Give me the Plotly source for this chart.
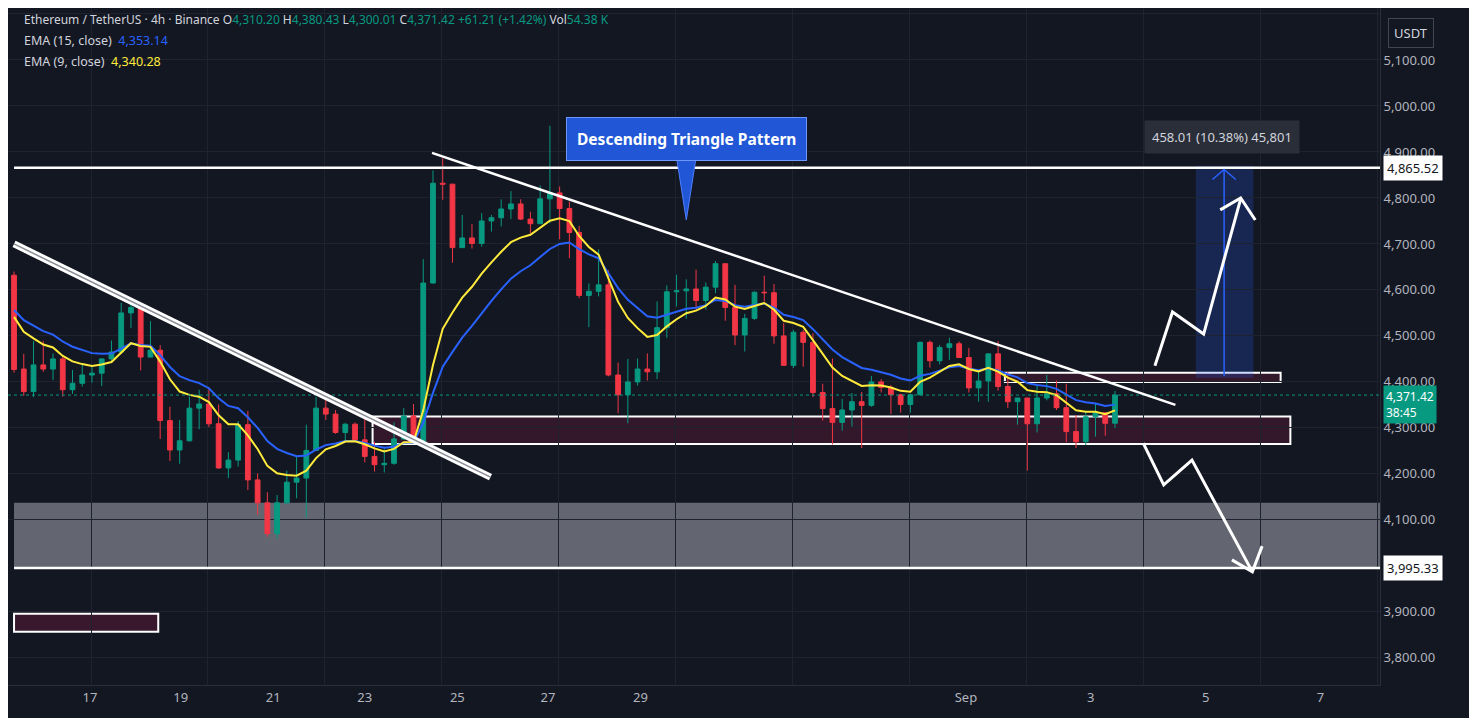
import plotly.graph_objects as go

# ---- data (4h candles, Aug 16 -> Sep 3) ----
opens = [4632,4428,4379,4437,4428,4450,4383,4397,4415,4419,4450,4465,4550,4562,4454,4469,4316,4252,4272,4343,
         4352,4309,4213,4230,4307,4187,4137,4070,4137,4182,4191,4251,4343,4330,4290,4308,4274,4238,4220,4223,
         4276,4326,4270,4615,4832,4830,4692,4713,4701,4750,4757,4776,4787,4754,4744,4798,4811,4777,4725,4588,
         4597,4611,4415,4372,4400,4428,4422,4518,4596,4598,4602,4577,4606,4657,4562,4502,4538,4595,4594,4500,
         4436,4508,4486,4377,4342,4312,4339,4357,4349,4400,4388,4372,4351,4372,4486,4446,4475,4483,4453,4387,
         4402,4461,4390,4357,4365,4309,4365,4374,4344,4292,4270,4324,4333,4310.20]
closes = [4427,4379,4437,4428,4450,4383,4397,4415,4419,4450,4465,4550,4562,4454,4469,4316,4252,4272,4343,4352,
          4309,4213,4230,4307,4187,4137,4070,4137,4182,4191,4251,4343,4330,4290,4308,4274,4238,4220,4223,4276,
          4326,4270,4615,4832,4830,4692,4713,4701,4750,4757,4776,4787,4754,4744,4798,4811,4777,4725,4588,4597,
          4611,4415,4372,4400,4428,4422,4518,4596,4598,4602,4577,4606,4657,4562,4502,4538,4595,4594,4500,4436,
          4508,4486,4377,4342,4312,4339,4357,4349,4400,4388,4372,4351,4372,4486,4446,4475,4483,4453,4387,4402,
          4461,4390,4357,4365,4309,4365,4374,4344,4292,4270,4324,4333,4310,4371.42]
highs = [4640,4461,4489,4489,4462,4455,4426,4438,4435,4451,4490,4572,4572,4562,4532,4480,4346,4317,4368,4383,
         4388,4351,4247,4315,4337,4201,4160,4154,4207,4239,4307,4367,4375,4339,4311,4312,4327,4270,4257,4312,
         4343,4352,4667,4860,4886,4830,4763,4743,4767,4763,4797,4815,4797,4770,4827,4957,4825,4792,4739,4614,
         4688,4643,4442,4450,4451,4462,4575,4610,4633,4623,4644,4616,4663,4657,4611,4548,4597,4631,4613,4528,
         4513,4513,4506,4396,4451,4363,4376,4378,4413,4406,4393,4374,4374,4488,4490,4480,4496,4488,4474,4426,
         4461,4489,4422,4365,4365,4392,4415,4403,4396,4328,4335,4354,4333,4380.43]
lows = [4420,4370,4367,4422,4404,4368,4374,4390,4398,4391,4442,4463,4517,4425,4454,4276,4228,4222,4270,4297,
        4302,4211,4191,4216,4165,4111,4063,4058,4135,4147,4104,4251,4317,4287,4268,4270,4225,4205,4203,4220,
        4274,4268,4265,4614,4796,4659,4692,4690,4694,4727,4738,4754,4752,4723,4744,4745,4710,4669,4582,4519,
        4586,4412,4332,4310,4392,4403,4406,4496,4564,4537,4557,4557,4593,4533,4480,4466,4535,4575,4483,4436,
        4430,4433,4367,4316,4264,4294,4303,4256,4346,4377,4330,4333,4333,4372,4431,4438,4448,4453,4377,4357,
        4357,4381,4343,4307,4207,4290,4360,4339,4269,4256,4263,4281,4283,4300.01]

ema15_seed = 4575
ema9_seed = 4570

x_tick_pos = [7.8, 17.1, 26.6, 36.0, 45.5, 54.8, 64.3, 97.7, 110.5, 122.3, 134.1]
x_tick_text = ["17", "19", "21", "23", "25", "27", "29", "Sep", "3", "5", "7"]
y_tick_vals = [3800, 3900, 4100, 4200, 4300, 4400, 4500, 4600, 4700, 4800, 4900, 5000, 5100, 5200]

n = len(closes)
idx = list(range(n))

def ema(vals, period, seed):
    a = 2.0 / (period + 1)
    out, prev = [], seed
    for v in vals:
        prev = a * v + (1 - a) * prev
        out.append(prev)
    return out

ema15 = ema(closes, 15, ema15_seed)
ema9 = ema(closes, 9, ema9_seed)

BG = "#131722"
GREEN = "#089981"
RED = "#f23645"
TXT = "#b2b5be"
X0, X1 = -0.62, 140.2

fig = go.Figure()
fig.add_trace(go.Candlestick(x=idx, open=opens, high=highs, low=lows, close=closes,
                             increasing=dict(line=dict(color=GREEN, width=1), fillcolor=GREEN),
                             decreasing=dict(line=dict(color=RED, width=1), fillcolor=RED),
                             whiskerwidth=0, showlegend=False, hoverinfo="skip"))
fig.add_trace(go.Scatter(x=idx, y=ema15, mode="lines", line=dict(color="#2962ff", width=2), showlegend=False, hoverinfo="skip"))
fig.add_trace(go.Scatter(x=idx, y=ema9, mode="lines", line=dict(color="#ffeb3b", width=2), showlegend=False, hoverinfo="skip"))

shapes = []
def rect(x0, x1, y0, y1, fill, line="white", lw=2, layer="below"):
    shapes.append(dict(type="rect", x0=x0, x1=x1, y0=y0, y1=y1, fillcolor=fill,
                       line=dict(color=line, width=lw), layer=layer))
def seg(x0, y0, x1, y1, color="white", w=2.5, dash=None):
    shapes.append(dict(type="line", x0=x0, y0=y0, x1=x1, y1=y1, line=dict(color=color, width=w, dash=dash)))
def poly(pts, color="white", w=2.5):
    p = "M " + " L ".join(f"{a},{b}" for a, b in pts)
    shapes.append(dict(type="path", path=p, line=dict(color=color, width=w)))

# zones
rect(0, X1, 3995.33, 4137, "rgba(120,123,134,0.8)", line="rgba(0,0,0,0)", lw=0)
rect(36.8, 131.0, 4265, 4325, "rgba(90,25,55,0.45)")
rect(101.7, 130.0, 4400, 4420, "rgba(90,25,55,0.45)")
rect(0, 14.8, 3857, 3896, "rgba(90,25,55,0.55)")
# horizontal levels
seg(0, 4865.52, X1, 4865.52, w=2.5)
seg(0, 3995.33, X1, 3995.33, w=2.5)
# current price dotted
seg(X0, 4371.42, X1, 4371.42, color=GREEN, w=1, dash="dot")
# descending triangle line
seg(42.9, 4898, 119.2, 4350, w=2.5)
# double channel line
seg(0, 4700, 48.9, 4193, color="white", w=7)
seg(0, 4700, 48.9, 4193, color="#8a8d96", w=1.5)
# measurement
rect(121.3, 127.2, 4409, 4870, "rgba(41,98,255,0.22)", line="rgba(0,0,0,0)", lw=0)
seg(124.2, 4413, 124.2, 4862, color="#2962ff", w=1.5)
poly([(123.0, 4840), (124.2, 4862), (125.4, 4840)], color="#2962ff", w=1.5)
# arrows
poly([(117.1, 4435), (118.9, 4552), (122.1, 4504), (125.9, 4798)], w=3)
poly([(123.8, 4774), (125.9, 4800), (127.4, 4752)], w=3)
poly([(115.9, 4267), (118.0, 4176), (120.9, 4230), (127.1, 3987)], w=3)
poly([(125.0, 4013), (127.1, 3987), (128.1, 4043)], w=3)
# callout pointer
shapes.append(dict(type="path", path="M 68.0,4888 L 70.0,4888 L 69.0,4752 Z",
                   fillcolor="#2157d6", line=dict(color="#4f7fff", width=1)))

ann = []
ann.append(dict(x=69.0, y=4929, text="<b>Descending Triangle Pattern</b>", showarrow=False,
                font=dict(color="white", size=15.5, family="Noto Sans"), bgcolor="#2157d6",
                bordercolor="#6e96ff", borderwidth=1, borderpad=10))
ann.append(dict(x=124.0, y=4933, text="458.01 (10.38%) 45,801", showarrow=False,
                font=dict(color="#d1d4dc", size=13, family="Noto Sans"), bgcolor="#2a2e39", borderpad=7))
hdr = ("<span style='color:#d1d4dc'>Ethereum / TetherUS · 4h · Binance </span>"
       "O<span style='color:#089981'>4,310.20</span> H<span style='color:#089981'>4,380.43</span> "
       "L<span style='color:#089981'>4,300.01</span> C<span style='color:#089981'>4,371.42</span> "
       "<span style='color:#089981'>+61.21 (+1.42%)</span> Vol<span style='color:#089981'>54.38 K</span>")
ann.append(dict(xref="paper", yref="paper", x=0.01, y=0.983, xanchor="left", yanchor="middle",
                text=hdr, showarrow=False, font=dict(color="#d1d4dc", size=12, family="Noto Sans")))
ann.append(dict(xref="paper", yref="paper", x=0.01, y=0.952, xanchor="left", yanchor="middle",
                text="EMA (15, close)  <span style='color:#2962ff'>4,353.14</span>", showarrow=False,
                font=dict(color="#d1d4dc", size=12.5, family="Noto Sans")))
ann.append(dict(xref="paper", yref="paper", x=0.01, y=0.921, xanchor="left", yanchor="middle",
                text="EMA (9, close)  <span style='color:#ffeb3b'>4,340.28</span>", showarrow=False,
                font=dict(color="#d1d4dc", size=12.5, family="Noto Sans")))
# right axis badges
for yv, txt, bg, fc in [(4865.52, "4,865.52", "white", "#131722"), (3995.33, "3,995.33", "white", "#131722")]:
    ann.append(dict(xref="paper", x=1.0, y=yv, xanchor="left", text=txt, showarrow=False,
                    font=dict(color=fc, size=13, family="Noto Sans"), bgcolor=bg, borderpad=3, xshift=3))
ann.append(dict(xref="paper", x=1.0, y=4350, xanchor="left", text="4,371.42<br>38:45", showarrow=False,
                align="left", font=dict(color="white", size=12, family="Noto Sans"), bgcolor=GREEN, borderpad=2, xshift=3))
ann.append(dict(xref="paper", yref="paper", x=1.0, y=0.985, xanchor="left", text="USDT", showarrow=False,
                font=dict(color="#d1d4dc", size=13, family="Noto Sans"), bgcolor=BG, bordercolor="#434651",
                borderwidth=1, borderpad=5, xshift=8))

fig.update_layout(
    width=1469, height=710, paper_bgcolor=BG, plot_bgcolor=BG,
    margin=dict(l=0, r=97, t=0, b=33),
    shapes=shapes, annotations=ann, showlegend=False,
    font=dict(family="Noto Sans", color=TXT, size=12),
    xaxis=dict(range=[X0, X1], rangeslider=dict(visible=False), tickvals=x_tick_pos, ticktext=x_tick_text,
               showgrid=False, zeroline=False, tickfont=dict(color=TXT, size=13), ticks="",
               minor=dict(tick0=7.9, dtick=12, showgrid=True, gridcolor="#1f2330"),
               showline=True, linecolor="#2a2e39"),
    yaxis=dict(range=[3741, 5213], side="right", tickvals=y_tick_vals, tickformat=",.2f",
               gridcolor="#1f2330", zeroline=False, tickfont=dict(color=TXT, size=13), ticks="",
               showline=True, linecolor="#2a2e39"),
)
fig.write_html("out.html")
